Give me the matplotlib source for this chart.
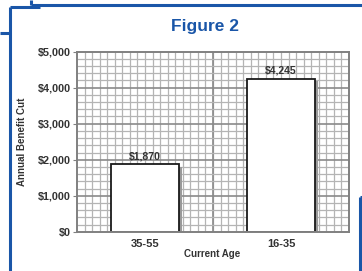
import numpy as np
import matplotlib.pyplot as plt
from matplotlib.lines import Line2D
from matplotlib.ticker import FixedLocator

# data
ages = ['35-55', '16-35']
cuts = [1870, 4245]
cut_labels = ['$1,870', '$4,245']
y_ticks = [0, 1000, 2000, 3000, 4000, 5000]
y_tick_labels = ['$0', '$1,000', '$2,000', '$3,000', '$4,000', '$5,000']

blue = '#1a56a8'
txt = '#333333'
font = 'Liberation Sans'

fig = plt.figure(figsize=(3.62, 2.71), dpi=100)
fig.patch.set_facecolor('white')

# blue frame pieces around the panel
def fline(x, y, lw=2.2):
    fig.add_artist(Line2D(np.array(x) / 362, 1 - np.array(y) / 271, color=blue, lw=lw,
                          transform=fig.transFigure, solid_capstyle='butt'))

fline([31, 362], [5, 5])
fline([31, 31], [0, 5])
fline([10, 10], [7, 271])
fline([10, 40], [7, 7])
fline([0, 10], [33, 33])
fline([360, 360], [197, 271])
fline([360, 362], [197, 197])

fig.text(205 / 362, 1 - 26 / 271, 'Figure 2', color=blue, fontsize=12.5,
         fontweight='bold', ha='center', va='center', family=font)

ax = fig.add_axes([77 / 362, 1 - 231.7 / 271, 272 / 362, 180 / 271])
x = np.arange(len(ages))
ax.set_xlim(-0.5, 1.5)
ax.set_ylim(0, 5000)

# graph paper grid
for xv in np.linspace(-0.5, 1.5, 37)[1:-1]:
    ax.axvline(xv, color='#b4b4b4', lw=0.9, zorder=0)
ax.axvline(0.5, color='#8a8a8a', lw=1.2, zorder=0)
for yv in range(200, 5000, 200):
    major = yv % 1000 == 0
    ax.axhline(yv, color='#8a8a8a' if major else '#b4b4b4', lw=1.2 if major else 0.9, zorder=0)

# bar shadow then bars
ax.bar(x + 0.022, np.array(cuts) - 60, width=0.5, bottom=0, color='#9a9a9a', zorder=1)
ax.bar(x, cuts, width=0.5, color='white', edgecolor='#1a1a1a', lw=1.3, zorder=2)
for xi, v, lab in zip(x, cuts, cut_labels):
    ax.text(xi, v + 90, lab, ha='center', va='bottom', fontsize=7.5, fontweight='bold',
            color=txt, family=font, zorder=3)

for s in ax.spines.values():
    s.set_color('#808080')
    s.set_linewidth(1.4)

ax.yaxis.set_major_locator(FixedLocator(y_ticks))
ax.set_yticklabels(y_tick_labels)
ax.set_xticks(x)
ax.set_xticklabels(ages)
ax.tick_params(axis='y', length=3, width=0.8, color='#808080', pad=1.5, labelsize=7.8)
ax.tick_params(axis='x', length=0, pad=5, labelsize=8)
for t in ax.get_yticklabels() + ax.get_xticklabels():
    t.set_fontweight('bold')
    t.set_color(txt)
    t.set_family(font)

fig.text(212 / 362, 1 - 254 / 271, 'Current Age', fontsize=7, fontweight='bold', color=txt,
         ha='center', va='center', family=font)
fig.text(22 / 362, 1 - 142 / 271, 'Annual Benefit Cut', rotation=90, fontsize=7,
         color=txt, ha='center', va='center', family=font, fontweight='bold')

fig.savefig('out.png', dpi=100)
